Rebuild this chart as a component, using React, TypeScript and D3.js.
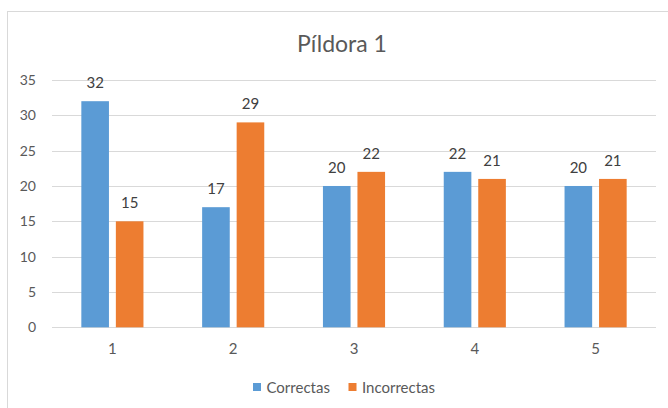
import * as d3 from 'd3';
import React from "react";

const WIDTH = 668;
const HEIGHT = 408;
const FONT = "Lato, 'Open Sans', sans-serif";
const TEXT_COLOR = "#595959";
const GRID_COLOR = "#D9D9D9";

const categories = ["1", "2", "3", "4", "5"];
const series = ["Correctas", "Incorrectas"];
const correctas = [32, 17, 20, 22, 20];
const incorrectas = [15, 29, 22, 21, 21];
const yTicks = [0, 5, 10, 15, 20, 25, 30, 35];
const colors = ["#5B9BD5", "#ED7D31"];

const values = [correctas, incorrectas];

export default function App() {
    const x0 = d3.scaleBand().domain(categories).range([52, 656]);
    const x1 = d3.scaleBand().domain(series).range([0, x0.bandwidth()])
        .paddingInner(0.2).paddingOuter(0.85);
    const y = d3.scaleLinear().domain([0, 35]).range([327.3, 80]);

    return (
        <svg width={WIDTH} height={HEIGHT}
             style={{position: "absolute", left: 0, top: 0, background: "#fff"}}
             fontFamily={FONT}>
            <rect x={7.5} y={11.5} width={WIDTH + 10} height={HEIGHT + 10}
                  fill="#fff" stroke={GRID_COLOR} strokeWidth={1}/>
            <text x={342} y={52} textAnchor="middle" fontSize={23} fill={TEXT_COLOR}>Píldora 1</text>

            {yTicks.map(t => (
                <g key={t}>
                    <line x1={52} x2={656} y1={Math.round(y(t)) + 0.5} y2={Math.round(y(t)) + 0.5}
                          stroke={GRID_COLOR} strokeWidth={1}/>
                    <text x={36} y={y(t) + 5} textAnchor="end" fontSize={14} fill={TEXT_COLOR}>{t}</text>
                </g>
            ))}

            {categories.map((c, i) => (
                <g key={c} transform={`translate(${x0(c)},0)`}>
                    {series.map((s, j) => {
                        const v = values[j][i];
                        const bx = x1(s)!;
                        return (
                            <g key={s}>
                                <rect x={bx} y={y(v)} width={x1.bandwidth()} height={y(0) - y(v)}
                                      fill={colors[j]}/>
                                <text x={bx + x1.bandwidth() / 2} y={y(v) - 13} textAnchor="middle"
                                      fontSize={15} fill="#404040">{v}</text>
                            </g>
                        );
                    })}
                    <text x={x0.bandwidth() / 2} y={354} textAnchor="middle" fontSize={15}
                          fill={TEXT_COLOR}>{c}</text>
                </g>
            ))}

            {series.map((s, j) => {
                const lx = j === 0 ? 253 : 348.5;
                return (
                    <g key={s} transform={`translate(${lx},383)`}>
                        <rect x={0} y={0} width={8} height={8} fill={colors[j]}/>
                        <text x={13.5} y={9.5} fontSize={15} fill={TEXT_COLOR}>{s}</text>
                    </g>
                );
            })}
        </svg>
    );
}
